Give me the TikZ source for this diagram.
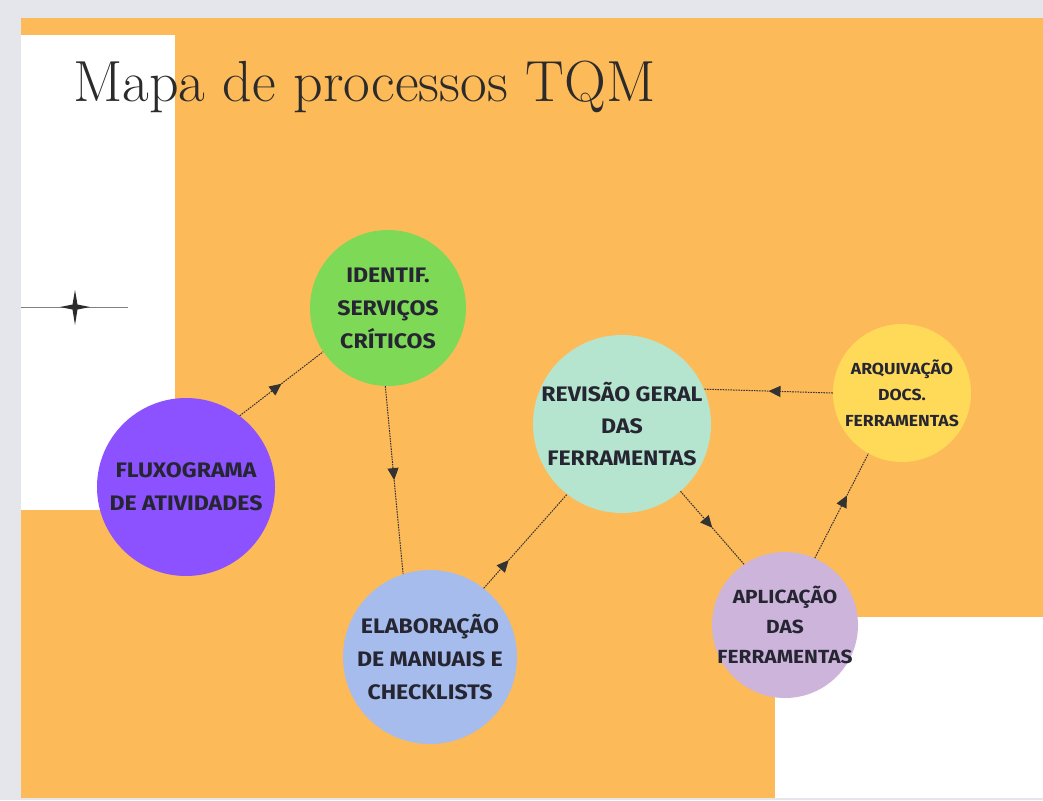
\documentclass[tikz,border=0pt]{standalone}
\usepackage{fontspec}
\usepackage{xcolor}
\usepackage{tikz}
\usetikzlibrary{calc}
\usetikzlibrary{arrows.meta}
\newfontfamily\bubblefont{Fira Sans}[FakeStretch=1.1]
\definecolor{pagegray}{HTML}{E5E6EB}
\definecolor{bgorange}{HTML}{FDBA58}
\definecolor{cgreen}{HTML}{7ED957}
\definecolor{cpurple}{HTML}{8C52FF}
\definecolor{cmint}{HTML}{B5E5CF}
\definecolor{cyellow}{HTML}{FFDA59}
\definecolor{cblue}{HTML}{A6BCEC}
\definecolor{clilac}{HTML}{CDB4DB}
\definecolor{inkdark}{HTML}{262633}
\definecolor{titleink}{HTML}{2B2B2B}
\definecolor{linedark}{HTML}{333333}
\tikzset{
bubble/.style={circle, inner sep=-20pt, align=center, text=inkdark},
flowline/.style={linedark, line width=1pt, dash pattern=on 1.6pt off 1pt},
>={Triangle[length=12pt,width=11pt]}
}
\newcommand{\flowarrow}[3][0.5]{
\draw[flowline,->] (#2) -- ($(#2)!#1!(#3)$);
\draw[flowline]    ($(#2)!#1!(#3)$) -- (#3);
}

\begin{document}
\begin{tikzpicture}[x=1pt, y=-1pt]
\useasboundingbox (0,0) rectangle (1043,800);
\fill[pagegray] (0,0) rectangle (1043,800);
\fill[bgorange] (21,18) rectangle (1043,798);
\fill[white] (21,35) rectangle (175,510);
\fill[white] (775,617) rectangle (1043,798);
\draw[gray, line width=1pt] (21,307) -- (128,307);
\fill[titleink] (75,290) -- (77.5,304.5) -- (90,307) -- (77.5,309.5) -- (75,325)
  -- (72.5,309.5) -- (60,307) -- (72.5,304.5) -- cycle;
\node[anchor=base west, inner sep=0pt, text=titleink, font=\fontsize{58}{64}\selectfont]
  at (73,101) (title) {Mapa de processos TQM};

\node[bubble, fill=cgreen, minimum size=156pt, font=\bubblefont\bfseries\fontsize{21}{33}\selectfont]
  at (388,308) (ident) {IDENTIF.\\SERVIÇOS\\CRÍTICOS};
\node[bubble, fill=cpurple, minimum size=178pt, font=\bubblefont\bfseries\fontsize{21}{33}\selectfont]
  at (186,487) (flux) {FLUXOGRAMA\\DE ATIVIDADES};
\node[bubble, fill=cmint, minimum size=178pt, font=\bubblefont\bfseries\fontsize{21}{32}\selectfont]
  at (622,424) (revis) {REVISÃO GERAL\\DAS\\FERRAMENTAS};
\node[bubble, fill=cyellow, minimum size=138pt, font=\bubblefont\bfseries\fontsize{16}{26}\selectfont]
  at (902,393) (arquiv) {ARQUIVAÇÃO\\DOCS.\\FERRAMENTAS};
\node[bubble, fill=cblue, minimum size=174pt, font=\bubblefont\bfseries\fontsize{21}{33}\selectfont]
  at (430,657) (elab) {ELABORAÇÃO\\DE MANUAIS E\\CHECKLISTS};
\node[bubble, fill=clilac, minimum size=146pt, font=\bubblefont\bfseries\fontsize{19}{30}\selectfont]
  at (785,625) (aplic) {APLICAÇÃO\\DAS\\FERRAMENTAS};

\flowarrow{flux.53}{ident.214}
\flowarrow{ident.268}{elab.108}
\flowarrow[0.3]{elab.52}{revis.232}
\flowarrow{revis.311}{aplic.124}
\flowarrow[0.6]{aplic.66}{arquiv.241}
\flowarrow{arquiv.180}{revis.23}
\end{tikzpicture}
\end{document}
